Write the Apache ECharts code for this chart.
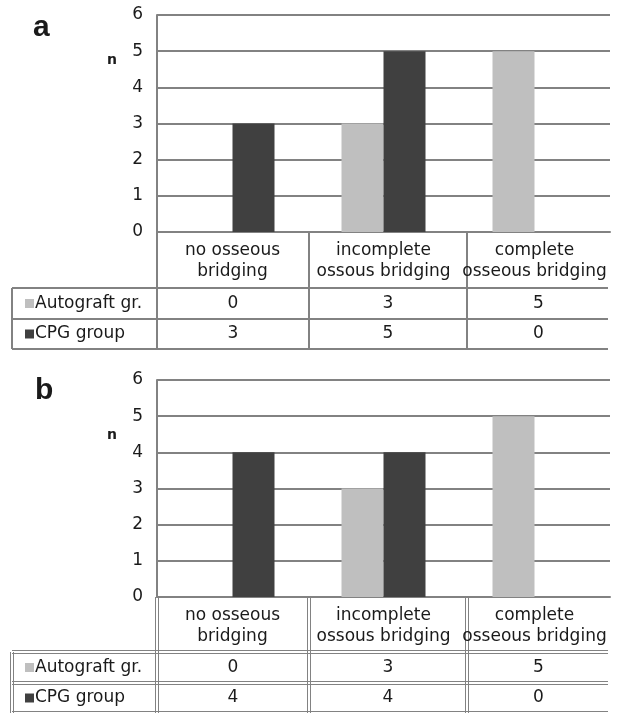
<!DOCTYPE html>
<html><head><meta charset="utf-8">
<script src="https://cdn.jsdelivr.net/npm/echarts@6/dist/echarts.min.js"></script>
<style>html,body{margin:0;padding:0;background:#fff}#c{width:628px;height:714px}</style>
</head><body><div id="c"></div>
<script>
// ---- data ----
const categories = ['no osseous\nbridging', 'incomplete\nossous bridging', 'complete\nosseous bridging'];
const seriesNames = ['Autograft gr.', 'CPG group'];
const autograftA = [0, 3, 5];
const cpgA = [3, 5, 0];
const autograftB = [0, 3, 5];
const cpgB = [4, 4, 0];
const yTicks = [0, 1, 2, 3, 4, 5, 6];
const panelLabels = ['a', 'b'];
const axisName = 'n';

// ---- style / layout ----
const FONT = '"DejaVu Sans", Verdana, sans-serif';
const LFONT = '"Liberation Sans", Arial, sans-serif';
const LIGHT = '#bfbfbf', DARK = '#404040', LINE = '#828282', TEXT = '#1a1a1a';
const GL = 157, GR = 610;
const colEdges = [157, 309, 467, 610];
const tableLeft = 12, tableRight = 608;
const panels = [
  { top: 15, bottom: 232, rows: [288, 319, 349], label: [33, 28], n: [112, 60], dbl: false, data: [autograftA, cpgA] },
  { top: 380, bottom: 597, rows: [652, 683, 713], label: [35, 391], n: [112, 435], dbl: true, data: [autograftB, cpgB] }
];

const grid = [], xAxis = [], yAxis = [], series = [], graphic = [];
const colors = [LIGHT, DARK];

function hline(x1, x2, y, dbl) {
  if (dbl) {
    graphic.push({ type: 'line', shape: { x1, y1: y - 1.5, x2, y2: y - 1.5 }, style: { stroke: LINE, lineWidth: 1 } });
    graphic.push({ type: 'line', shape: { x1, y1: y + 1.5, x2, y2: y + 1.5 }, style: { stroke: LINE, lineWidth: 1 } });
  } else {
    graphic.push({ type: 'line', shape: { x1, y1: y, x2, y2: y }, style: { stroke: LINE, lineWidth: 2 } });
  }
}
function vline(x, y1, y2, dbl) {
  if (dbl) {
    graphic.push({ type: 'line', shape: { x1: x - 1.5, y1, x2: x - 1.5, y2 }, style: { stroke: LINE, lineWidth: 1 } });
    graphic.push({ type: 'line', shape: { x1: x + 1.5, y1, x2: x + 1.5, y2 }, style: { stroke: LINE, lineWidth: 1 } });
  } else {
    graphic.push({ type: 'line', shape: { x1: x, y1, x2: x, y2 }, style: { stroke: LINE, lineWidth: 2 } });
  }
}

panels.forEach((p, i) => {
  grid.push({ left: GL, top: p.top, width: GR - GL, height: p.bottom - p.top, containLabel: false });
  xAxis.push({
    type: 'category', gridIndex: i, data: categories,
    axisLine: { show: true, lineStyle: { color: LINE, width: 2 } },
    axisTick: { show: false },
    axisLabel: { interval: 0, fontSize: 17, lineHeight: 21, margin: 8, color: TEXT, fontFamily: FONT }
  });
  yAxis.push({
    type: 'value', gridIndex: i, min: yTicks[0], max: yTicks[yTicks.length - 1], interval: 1,
    axisLine: { show: true, lineStyle: { color: LINE, width: 2 } },
    axisTick: { show: false },
    splitLine: { show: true, lineStyle: { color: LINE, width: 2 } },
    axisLabel: { fontSize: 17, margin: 14, color: TEXT, fontFamily: FONT }
  });
  seriesNames.forEach((name, s) => {
    series.push({
      type: 'bar', name, xAxisIndex: i, yAxisIndex: i, data: p.data[s],
      barWidth: 42, barGap: '0%', itemStyle: { color: colors[s] }, silent: true
    });
  });
  graphic.push({ type: 'text', x: p.label[0], y: p.label[1], style: { text: panelLabels[i], font: 'bold 30px ' + LFONT, fill: TEXT, textVerticalAlign: 'middle' } });
  graphic.push({ type: 'text', x: p.n[0], y: p.n[1], style: { text: axisName, font: 'bold 14px ' + FONT, fill: TEXT, textAlign: 'center', textVerticalAlign: 'middle' } });
  const lw = p.dbl;
  [colEdges[0], colEdges[1], colEdges[2]].forEach(x => vline(x, p.bottom, p.rows[2], lw));
  p.rows.forEach(y => hline(tableLeft, tableRight, y, lw));
  vline(tableLeft, p.rows[0], p.rows[2], lw);
  seriesNames.forEach((name, s) => {
    const y0 = p.rows[s], y1 = p.rows[s + 1], cy = (y0 + y1) / 2;
    graphic.push({ type: 'rect', shape: { x: 25, y: cy - 4.5, width: 9, height: 9 }, style: { fill: colors[s] } });
    graphic.push({ type: 'text', x: 35, y: cy, style: { text: name, font: '17px ' + FONT, fill: TEXT, textVerticalAlign: 'middle' } });
    p.data[s].forEach((v, c) => {
      const cx = (colEdges[c] + colEdges[c + 1]) / 2;
      graphic.push({ type: 'text', x: cx, y: cy, style: { text: String(v), font: '17px ' + FONT, fill: TEXT, textAlign: 'center', textVerticalAlign: 'middle' } });
    });
  });
});

const chart = echarts.init(document.getElementById('c'), null, { renderer: 'canvas' });
chart.setOption({ animation: false, backgroundColor: '#fff', grid, xAxis, yAxis, series, graphic });
</script></body></html>
